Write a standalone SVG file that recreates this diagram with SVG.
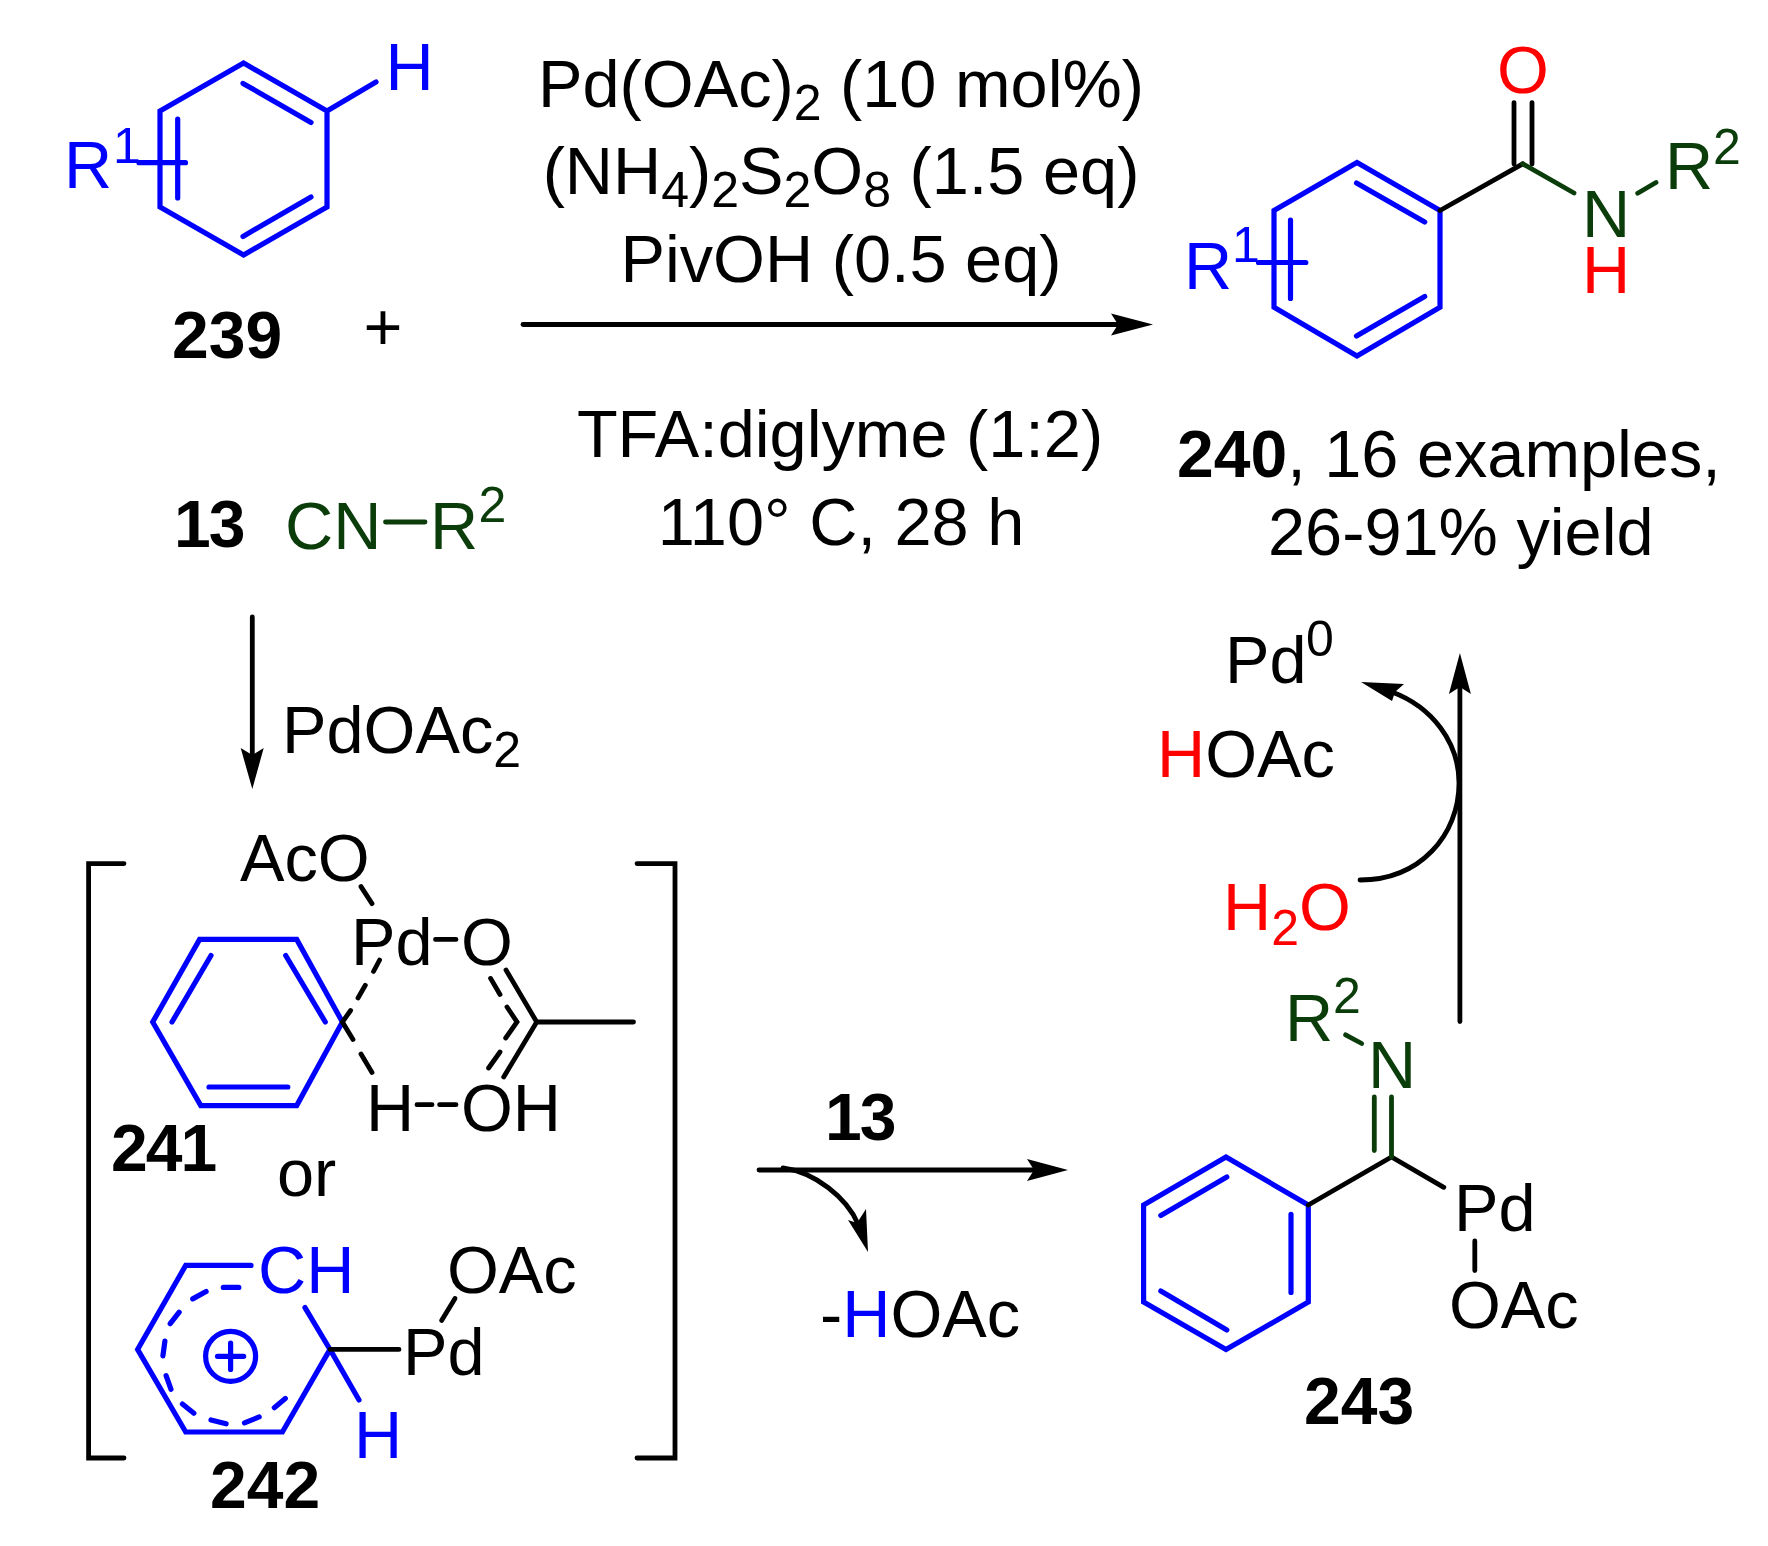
<svg xmlns="http://www.w3.org/2000/svg" width="1768" height="1546" viewBox="0 0 1768 1546">
<style>
text{font-family:"Liberation Sans",Arial,sans-serif;font-size:66.7px;fill:#000}
.b{font-weight:700;font-size:66px}
.s{font-size:50px}
.m{text-anchor:middle}
.blue{fill:#0000ff}.red{fill:#ff0000}.green{fill:#0b3d0b}
path,circle{fill:none;stroke-linecap:round;stroke-linejoin:miter}
.lb{stroke:#0000ff;stroke-width:5.2}
.lk{stroke:#000;stroke-width:4.8}
.lg{stroke:#0b3d0b;stroke-width:4.8}
.head{fill:#000;stroke:none}
</style>
<rect width="1768" height="1546" fill="#fff"/>
<g id="node-239">
<path class="lb" d="M243.6 63L327 111V207L243.6 255L160 207V111ZM243 83.4L311 122.4M243 236.4L311 197M177.7 119V198M139 162.7H185.5M327 111L376 82"/>
<text class="blue" x="64" y="188">R</text><text class="blue s" x="113" y="162.7">1</text>
<text class="blue" x="385.5" y="89.5">H</text>
<text class="b" x="172" y="358">239</text>
</g>
<text id="plus" class="m" x="383" y="350">+</text>
<g id="node-13">
<text class="b" x="174" y="547" letter-spacing="-2">13</text>
<text class="green" x="285" y="549">CN</text>
<path class="lg" d="M385.5 522H425"/>
<text class="green" x="430" y="549">R</text><text class="green s" x="478.5" y="522">2</text>
</g>
<g id="conditions">
<text class="m" x="841" y="107">Pd(OAc)<tspan class="s" dy="13">2</tspan><tspan dy="-13"> (10 mol%)</tspan></text>
<text class="m" x="841" y="194">(NH<tspan class="s" dy="13">4</tspan><tspan dy="-13">)</tspan><tspan class="s" dy="13">2</tspan><tspan dy="-13">S</tspan><tspan class="s" dy="13">2</tspan><tspan dy="-13">O</tspan><tspan class="s" dy="13">8</tspan><tspan dy="-13"> (1.5 eq)</tspan></text>
<text class="m" x="841" y="282">PivOH (0.5 eq)</text>
<text class="m" x="840" y="457">TFA:diglyme (1:2)</text>
<text class="m" x="841" y="545">110° C, 28 h</text>
</g>
<g id="node-240">
<path class="lb" d="M1357 162.6L1440 210.5V307.3L1357 356L1274 307.3V210.5ZM1356.5 183L1424.7 222M1356.5 336L1424.7 296.6M1290.5 220V298.5M1258.5 262.5H1305.8"/>
<path class="lk" d="M1440 210.5L1522.7 163.8M1514 102.6V164M1532 102.6V164"/>
<path class="lg" d="M1522.7 163.8L1574 193M1637.7 193.3L1656 182.5"/>
<text class="blue" x="1184" y="289">R</text><text class="blue s" x="1232" y="262">1</text>
<text class="red m" x="1523" y="93">O</text>
<text class="green" x="1582" y="237">N</text><text class="red" x="1582" y="293">H</text>
<text class="green" x="1665" y="189">R</text><text class="green s" x="1713" y="164">2</text>
<text x="1177" y="477"><tspan class="b">240</tspan>, 16 examples,</text>
<text x="1268" y="555">26-91% yield</text>
</g>
<g id="label-PdOAc2"><text x="282" y="752.7">PdOAc<tspan class="s" dy="14">2</tspan></text></g>
<g id="node-241-242">
<path class="lk" d="M124 863.6H88.6V1458H124M637 863.6H675V1458H637"/>
<path class="lb" d="M199.6 939.4H296.7L342.4 1022L296.7 1105.6H200.8L152.7 1022ZM211 955.5L172 1022M285.7 955.5L325.3 1022M209 1087H287.8"/>
<path class="lk" d="M361 886.6L372 903.6M435.5 939.4H456M536.7 1022H633.5M536.7 1022L506 970M536.7 1022L503.7 1077"/>
<path class="lk" d="M379.6 960L373.5 971.5M365.3 985.3L358 998M350.6 1010.5L342.4 1022L353 1039.5M361 1054L372 1072.5M417 1104.7H432M439.6 1104.7H456M490.6 978.4L500 994.5M507 1007L517 1022L505.7 1038M500 1052L488.6 1068"/>
<text x="240" y="881">AcO</text><text x="351" y="965">Pd</text><text x="461" y="965">O</text>
<text x="366" y="1131">H</text><text x="461" y="1131">OH</text>
<text class="b" x="111" y="1171" letter-spacing="-2">241</text>
<text x="277" y="1196">or</text>
<path class="lb" d="M251 1265.4H185.7L137.6 1349.4L185.7 1432H282.4L330 1349.4L305 1307.6M330 1349.4L359 1400"/>
<path class="lb" d="M223.3 1287.4H238.8M192.7 1298.9L206.1 1291.5M170.2 1323.7L179.2 1312.2M162.9 1355.8L164.9 1341.1M166.1 1375.6L171 1389.3M182.4 1404L193.9 1413.2M211 1420L226.1 1423.8M244.5 1422.9L259.2 1416.9M274.3 1407.7L285.3 1398.5"/>
<circle class="lb" cx="230.6" cy="1356.3" r="25"/>
<path class="lb" d="M217.5 1356.3H243.7M230.6 1343.2V1369.4"/>
<path class="lk" d="M330 1349.4H399M455 1298.4L441.6 1320.5"/>
<text class="blue" x="258" y="1293">CH</text>
<text x="403" y="1375">Pd</text><text x="447" y="1293">OAc</text>
<text class="blue" x="354" y="1458">H</text>
<text class="b" x="210" y="1508">242</text>
</g>
<g id="step-labels">
<text class="b" x="825" y="1140" letter-spacing="-2">13</text>
<text x="820" y="1337">-<tspan class="blue">H</tspan>OAc</text>
<text x="1225" y="683">Pd</text><text class="s" x="1306" y="656">0</text>
<text x="1157" y="777"><tspan class="red">H</tspan>OAc</text>
<text class="red" x="1223" y="930">H<tspan class="s" dy="15">2</tspan><tspan dy="-15">O</tspan></text>
</g>
<g id="node-243">
<path class="lb" d="M1226 1157L1308.3 1205V1302L1226 1349.6L1143.6 1302V1205ZM1226.8 1177L1160.8 1215.4M1291 1214.4V1292.4M1160.8 1291L1226.8 1330"/>
<path class="lk" d="M1308.3 1205L1391.5 1157L1443.8 1187.3M1474.8 1241V1270.5"/>
<path class="lg" d="M1374.3 1097V1150.6M1391.5 1097V1157M1345.6 1034.8L1361.7 1043.5"/>
<text class="green" x="1285" y="1041">R</text><text class="green s" x="1333" y="1013">2</text>
<text class="green" x="1368" y="1088">N</text>
<text x="1454" y="1231">Pd</text><text x="1449" y="1328">OAc</text>
<text class="b" x="1304" y="1424">243</text>
</g>
<g id="connectors">
<path class="lk" d="M523 324.5H1125"/><path class="head" d="M1153 324.5L1111 313.5L1118 324.5L1111 335.5Z"/>
<path class="lk" d="M252.3 617V760"/><path class="head" d="M252.3 789L240.7 748L252.3 755L263.7 748Z"/>
<path class="lk" d="M759 1170H1040"/><path class="head" d="M1068 1170L1027 1159L1034 1170L1027 1181Z"/>
<path class="lk" d="M783 1168C815 1172 847 1198 858 1224"/><path class="head" d="M868 1252L848 1220L857 1223L866 1209Z"/>
<path class="lk" d="M1459.9 1021.5V680"/><path class="head" d="M1459.9 653L1448.9 694L1459.9 687L1470.9 694Z"/>
<path class="lk" d="M1360 880C1420 880 1459 835 1459 783C1459 742 1432 707 1392 692"/><path class="head" d="M1361 682L1404 684L1395 692L1392 701Z"/>
</g>
</svg>
